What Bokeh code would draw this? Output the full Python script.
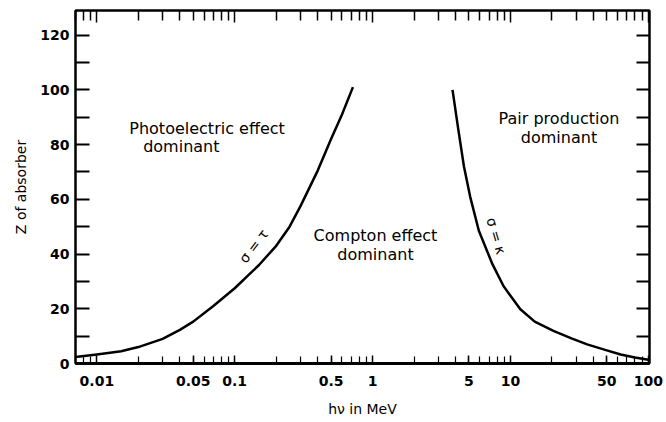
from bokeh.plotting import figure
from bokeh.models import (LogAxis, LinearAxis, FixedTicker, Label, Range1d,
                          CustomJSTickFormatter)
from bokeh.embed import file_html
from bokeh.resources import INLINE

# ---------------- data ----------------
# boundary sigma = tau (photoelectric / Compton), photon energy in MeV vs Z
photo_compton_e = [0.007, 0.01, 0.015, 0.02, 0.03, 0.04, 0.05, 0.07, 0.1, 0.15,
                   0.2, 0.25, 0.3, 0.4, 0.5, 0.6, 0.72]
photo_compton_z = [2.4, 3.3, 4.5, 6.0, 9.0, 12.3, 15.3, 21.0, 27.5, 36.0,
                   43.0, 50.0, 57.5, 70.5, 82.0, 91.0, 101.0]

# boundary sigma = kappa (Compton / pair production)
compton_pair_e = [3.8, 4.2, 4.6, 5.1, 5.9, 7.4, 8.9, 11.8, 15.0, 20.5, 28.0,
                  36.0, 50.0, 63.0, 80.0, 100.0]
compton_pair_z = [100.0, 85.0, 72.0, 61.0, 48.5, 36.3, 28.3, 19.8, 15.3, 11.9,
                  9.1, 7.0, 4.8, 3.3, 2.2, 1.4]

x_tick_values = [0.01, 0.05, 0.1, 0.5, 1, 5, 10, 50, 100]
x_decades = [0.001, 0.01, 0.1, 1, 10]
y_tick_values = [0, 20, 40, 60, 80, 100, 120]
y_minor_values = [10, 30, 50, 70, 90, 110]

region_texts = ["Photoelectric effect", "dominant", "Compton effect", "dominant",
                "Pair production", "dominant"]
region_x = [0.063, 0.041, 1.05, 1.05, 22.5, 22.5]
region_z = [86.0, 79.2, 46.9, 39.8, 89.5, 82.6]

curve_texts = ["σ = τ", "σ = κ"]
curve_x = [0.137, 7.9]
curve_z = [42.9, 46.6]
curve_angle = [0.92, -1.29]

x_minor_values = [d * m for d in x_decades for m in range(2, 10)]
x_decade_ticks = [0.01, 0.1, 1, 10, 100]

FONT = "DejaVu Sans"

p = figure(width=666, height=422, x_axis_type="log",
           x_range=Range1d(0.007, 102), y_range=Range1d(0, 129),
           output_backend="svg", toolbar_location=None,
           min_border_left=75, min_border_right=17,
           min_border_top=10, min_border_bottom=59,
           background_fill_color="white", border_fill_color="white")
p.grid.visible = False
p.outline_line_color = "black"
p.outline_line_width = 2

fmt = CustomJSTickFormatter(code="return tick.toString();")

# bottom axis
xa = p.xaxis[0]
xa.ticker = FixedTicker(ticks=x_tick_values, minor_ticks=x_minor_values)
xa.formatter = fmt
xa.major_tick_in = 8
xa.major_tick_out = 0
xa.minor_tick_in = 7
xa.minor_tick_out = 0
xa.major_tick_line_width = 1.5
xa.minor_tick_line_width = 1.2
xa.axis_line_width = 3
xa.major_label_text_font = FONT
xa.major_label_text_font_style = "bold"
xa.major_label_text_font_size = "14px"
xa.major_label_text_color = "black"
xa.major_label_standoff = 12
xa.axis_label = "hν in MeV"
xa.axis_label_text_font = FONT
xa.axis_label_text_font_style = "normal"
xa.axis_label_text_font_size = "14px"
xa.axis_label_text_color = "black"
xa.axis_label_standoff = 12

# left axis
ya = p.yaxis[0]
ya.ticker = FixedTicker(ticks=y_tick_values, minor_ticks=y_minor_values)
ya.major_tick_in = 14
ya.major_tick_out = 0
ya.minor_tick_in = 14
ya.minor_tick_out = 0
ya.major_tick_line_width = 2
ya.minor_tick_line_width = 2
ya.axis_line_width = 2
ya.major_label_text_font = FONT
ya.major_label_text_font_style = "bold"
ya.major_label_text_font_size = "14px"
ya.major_label_text_color = "black"
ya.major_label_standoff = 6
ya.axis_label = "Z of absorber"
ya.axis_label_text_font = FONT
ya.axis_label_text_font_style = "normal"
ya.axis_label_text_font_size = "14px"
ya.axis_label_text_color = "black"
ya.axis_label_standoff = 8

# top axis (ticks only)
top = LogAxis(ticker=FixedTicker(ticks=x_decade_ticks, minor_ticks=x_minor_values),
              major_label_text_font_size="1px", major_label_text_alpha=0,
              major_label_standoff=0,
              major_tick_in=12, major_tick_out=0, minor_tick_in=10, minor_tick_out=0,
              major_tick_line_width=1.5, minor_tick_line_width=1.5,
              axis_line_width=2)
p.add_layout(top, "above")

# right axis (ticks only)
right = LinearAxis(ticker=FixedTicker(ticks=y_tick_values, minor_ticks=y_minor_values),
                   major_label_text_font_size="1px", major_label_text_alpha=0,
                   major_label_standoff=0,
                   major_tick_in=13, major_tick_out=0, minor_tick_in=13, minor_tick_out=0,
                   major_tick_line_width=2, minor_tick_line_width=2,
                   axis_line_width=2)
p.add_layout(right, "right")

# curves
p.line(photo_compton_e, photo_compton_z, line_color="black", line_width=2.5,
       line_join="round")
p.line(compton_pair_e, compton_pair_z, line_color="black", line_width=2.5,
       line_join="round")

# region labels
for t, x, z in zip(region_texts, region_x, region_z):
    p.add_layout(Label(x=x, y=z, text=t, text_align="center", text_baseline="middle",
                       text_font=FONT, text_font_size="16px", text_color="black"))

# curve labels
for t, x, z, a in zip(curve_texts, curve_x, curve_z, curve_angle):
    p.add_layout(Label(x=x, y=z, text=t, angle=a, text_align="center",
                       text_baseline="middle", text_font=FONT,
                       text_font_size="14px", text_color="black"))

open("out.html", "w").write(file_html(p, INLINE))
